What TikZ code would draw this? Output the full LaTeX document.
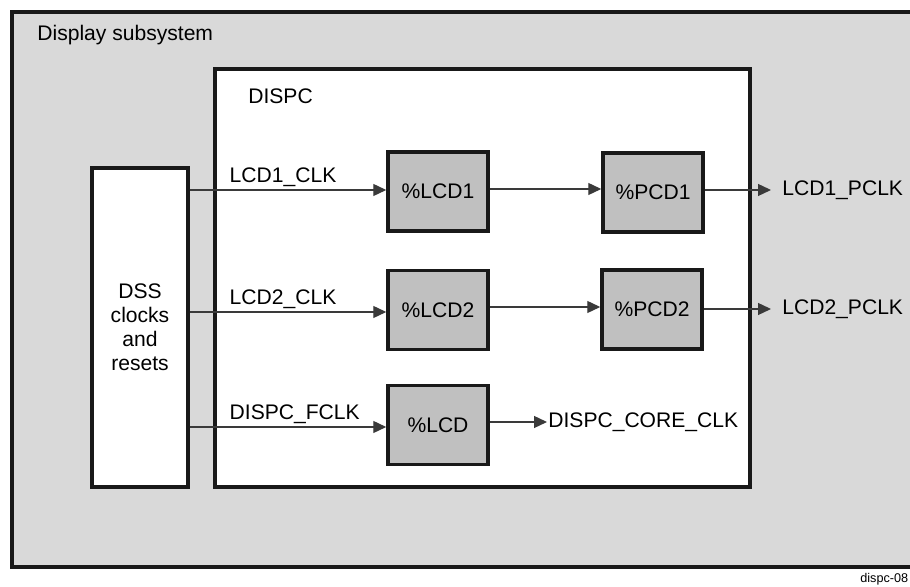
\documentclass[tikz,border=0pt]{standalone}
\usepackage{fontspec}
\setmainfont{Liberation Sans}
\usetikzlibrary{arrows.meta}
\definecolor{subsysgray}{HTML}{D9D9D9}
\definecolor{divgray}{HTML}{C0C0C0}
\definecolor{wiregray}{HTML}{3A3A3A}
\tikzset{
  frame/.style={draw=black!90, line width=2pt},
  divbox/.style={frame, fill=divgray, minimum width=2cm, minimum height=1.58cm, inner sep=0pt},
  wire/.style={draw=wiregray, line width=0.75pt, -{Triangle[length=0.26cm,width=0.24cm]}},
  lbl/.style={inner sep=0pt, font=\fontsize{12}{13.6}\selectfont}
}
\begin{document}
\begin{tikzpicture}[x=0.02cm, y=-0.02cm]
\useasboundingbox (0,0) rectangle (910,587);
\draw [frame, fill=subsysgray] (12,12) rectangle (925,567);
\node [lbl, anchor=west] (subsys) at (37,35) {Display subsystem};
\draw [frame, fill=white] (215,69) rectangle (750,487);
\node [lbl, anchor=west] (dispc) at (248,96) {DISPC};
\node [frame, fill=white, minimum width=1.92cm, minimum height=6.38cm, align=center, lbl] (dss) at (140,327.5) {DSS\\clocks\\and\\resets};
\node [divbox, lbl] (lcdA) at (438,191.5) {\%LCD1};
\node [divbox, lbl] (pcdA) at (653,192.5) {\%PCD1};
\node [divbox, lbl] (lcdB) at (438,310) {\%LCD2};
\node [divbox, lbl] (pcdB) at (652,309.5) {\%PCD2};
\node [divbox, lbl] (lcdC) at (438,425) {\%LCD};
\draw [wire] (dss.east |- 0,190) -- (lcdA.west |- 0,190) node [lbl, pos=0.2, anchor=base west, yshift=4.5pt] (clkA) {LCD1\_CLK};
\draw [wire] (dss.east |- 0,312) -- (lcdB.west |- 0,312) node [lbl, pos=0.2, anchor=base west, yshift=4.5pt] (clkB) {LCD2\_CLK};
\draw [wire] (dss.east |- 0,427) -- (lcdC.west |- 0,427) node [lbl, pos=0.2, anchor=base west, yshift=4.5pt] (fclk) {DISPC\_FCLK};
\draw [wire] (lcdA.east |- 0,189) -- (pcdA.west |- 0,189);
\draw [wire] (lcdB.east |- 0,307) -- (pcdB.west |- 0,307);
\coordinate (outA) at (771,190);
\coordinate (outB) at (771,309);
\coordinate (outC) at (547,422);
\draw [wire] (pcdA.east |- outA) -- (outA);
\draw [wire] (pcdB.east |- outB) -- (outB);
\draw [wire] (lcdC.east |- outC) -- (outC);
\node [lbl, anchor=west] (pclkA) at (782,190) {LCD1\_PCLK};
\node [lbl, anchor=west] (pclkB) at (782,309) {LCD2\_PCLK};
\node [lbl, anchor=west] (coreclk) at (548,422) {DISPC\_CORE\_CLK};
\node [inner sep=0pt, anchor=west, font=\fontsize{7.2}{9}\selectfont] (figid) at (860,579) {dispc-08};
\end{tikzpicture}
\end{document}
